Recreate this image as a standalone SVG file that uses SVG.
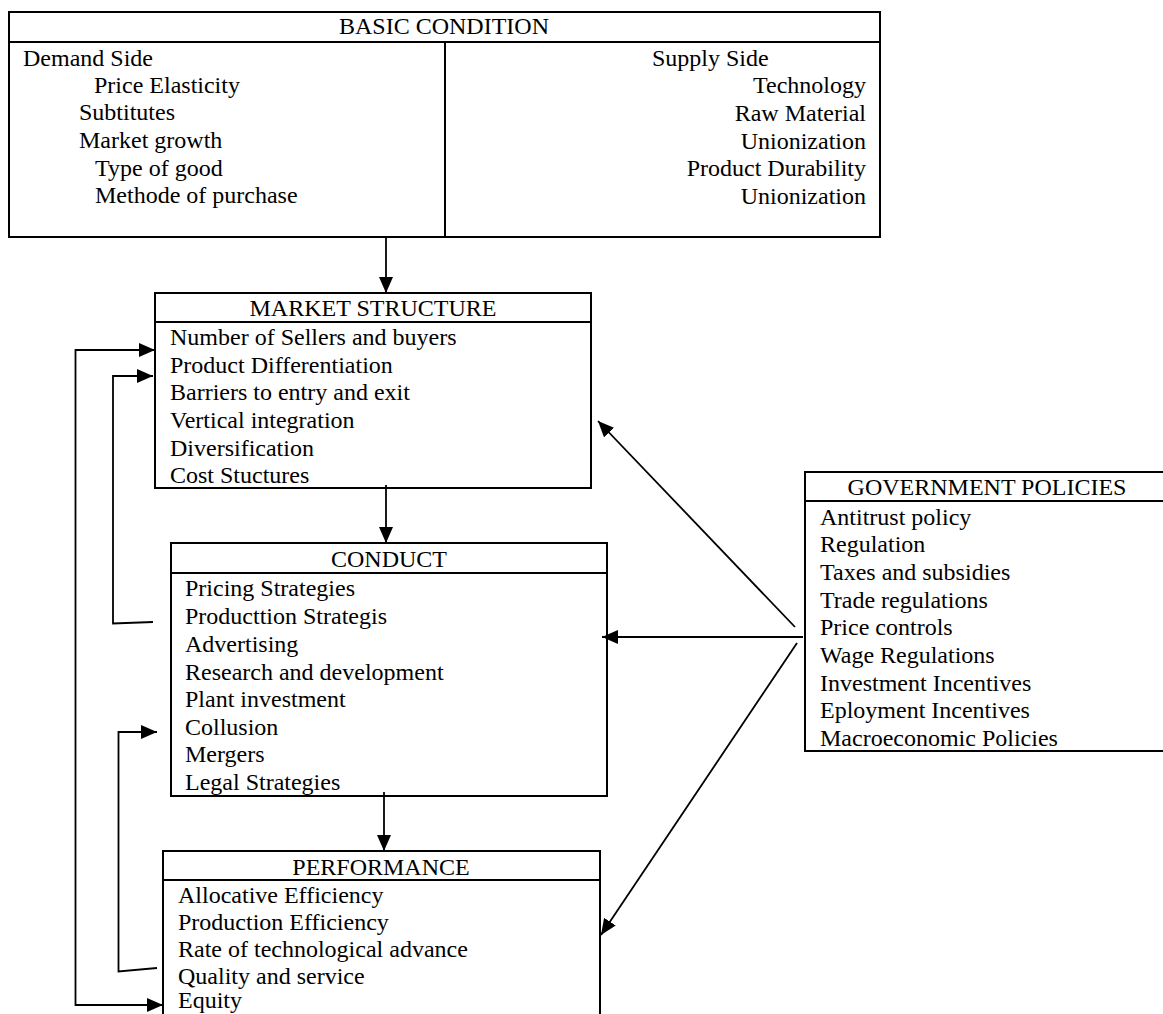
<svg xmlns="http://www.w3.org/2000/svg" width="1163" height="1014" viewBox="0 0 1163 1014">
<style>
.box{fill:#fff;stroke:#000;stroke-width:2}
.ln{fill:none;stroke:#000;stroke-width:2}
.t{font-family:"Liberation Serif","Times New Roman",serif;font-size:24px;fill:#000}
.c{text-anchor:middle}
.r{text-anchor:end}
.cn{fill:none;stroke:#000;stroke-width:1.8}
</style>
<defs>
<marker id="ah" viewBox="0 0 16 14" refX="16" refY="7" markerWidth="16" markerHeight="14" markerUnits="userSpaceOnUse" orient="auto-start-reverse">
<path d="M0,0 L16,7 L0,14 z" fill="#000"/>
</marker>
</defs>
<rect width="1163" height="1014" fill="#fff"/>

<g id="basic-condition">
<rect class="box" x="9" y="12" width="871" height="225"/>
<line class="ln" x1="9" y1="42" x2="880" y2="42"/>
<line class="ln" x1="445" y1="42" x2="445" y2="237"/>
<text class="t c" x="444" y="34">BASIC CONDITION</text>
<text class="t" x="23" y="66">Demand Side</text>
<text class="t" x="94" y="93">Price Elasticity</text>
<text class="t" x="79" y="120">Subtitutes</text>
<text class="t" x="79" y="148">Market growth</text>
<text class="t" x="95" y="176">Type of good</text>
<text class="t" x="95" y="203">Methode of purchase</text>
<text class="t" x="652" y="66">Supply Side</text>
<text class="t r" x="866" y="93">Technology</text>
<text class="t r" x="866" y="121">Raw Material</text>
<text class="t r" x="866" y="149">Unionization</text>
<text class="t r" x="866" y="176">Product Durability</text>
<text class="t r" x="866" y="204">Unionization</text>
</g>

<g id="market-structure">
<rect class="box" x="155" y="293" width="436" height="195"/>
<line class="ln" x1="155" y1="322" x2="591" y2="322"/>
<text class="t c" x="373" y="316">MARKET STRUCTURE</text>
<text class="t" x="170" y="345">Number of Sellers and buyers</text>
<text class="t" x="170" y="373">Product Differentiation</text>
<text class="t" x="170" y="400">Barriers to entry and exit</text>
<text class="t" x="170" y="428">Vertical integration</text>
<text class="t" x="170" y="456">Diversification</text>
<text class="t" x="170" y="483">Cost Stuctures</text>
</g>

<g id="conduct">
<rect class="box" x="171" y="543" width="436" height="253"/>
<line class="ln" x1="171" y1="573" x2="607" y2="573"/>
<text class="t c" x="389" y="567">CONDUCT</text>
<text class="t" x="185" y="596">Pricing Strategies</text>
<text class="t" x="185" y="624">Producttion Strategis</text>
<text class="t" x="185" y="652">Advertising</text>
<text class="t" x="185" y="680">Research and development</text>
<text class="t" x="185" y="707">Plant investment</text>
<text class="t" x="185" y="735">Collusion</text>
<text class="t" x="185" y="762">Mergers</text>
<text class="t" x="185" y="790">Legal Strategies</text>
</g>

<g id="performance">
<rect class="box" x="163" y="851" width="437" height="180"/>
<line class="ln" x1="163" y1="880" x2="600" y2="880"/>
<text class="t c" x="381" y="875">PERFORMANCE</text>
<text class="t" x="178" y="903">Allocative Efficiency</text>
<text class="t" x="178" y="930">Production Efficiency</text>
<text class="t" x="178" y="957">Rate of technological advance</text>
<text class="t" x="178" y="984">Quality and service</text>
<text class="t" x="178" y="1008">Equity</text>
</g>

<g id="government-policies">
<rect class="box" x="805" y="472" width="365" height="279"/>
<line class="ln" x1="805" y1="501" x2="1170" y2="501"/>
<text class="t c" x="987" y="495">GOVERNMENT POLICIES</text>
<text class="t" x="820" y="525">Antitrust policy</text>
<text class="t" x="820" y="552">Regulation</text>
<text class="t" x="820" y="580">Taxes and subsidies</text>
<text class="t" x="820" y="608">Trade regulations</text>
<text class="t" x="820" y="635">Price controls</text>
<text class="t" x="820" y="663">Wage Regulations</text>
<text class="t" x="820" y="691">Investment Incentives</text>
<text class="t" x="820" y="718">Eployment Incentives</text>
<text class="t" x="820" y="746">Macroeconomic Policies</text>
</g>

<g id="connectors">
<path class="cn" d="M386,237 V293" marker-end="url(#ah)"/>
<path class="cn" d="M386,485 V543" marker-end="url(#ah)"/>
<path class="cn" d="M384,792 V851" marker-end="url(#ah)"/>
<path class="cn" d="M795,627 L598,421" marker-end="url(#ah)"/>
<path class="cn" d="M803,637 H602" marker-end="url(#ah)"/>
<path class="cn" d="M797,643 L601,935" marker-end="url(#ah)"/>
<path class="cn" d="M155,350 H75.5 V1005 H163" marker-start="url(#ah)" marker-end="url(#ah)"/>
<path class="cn" d="M153,622 L113,623.5 V376 H153" marker-end="url(#ah)"/>
<path class="cn" d="M157,968 L118.5,971.5 V732 H157" marker-end="url(#ah)"/>
</g>
</svg>
